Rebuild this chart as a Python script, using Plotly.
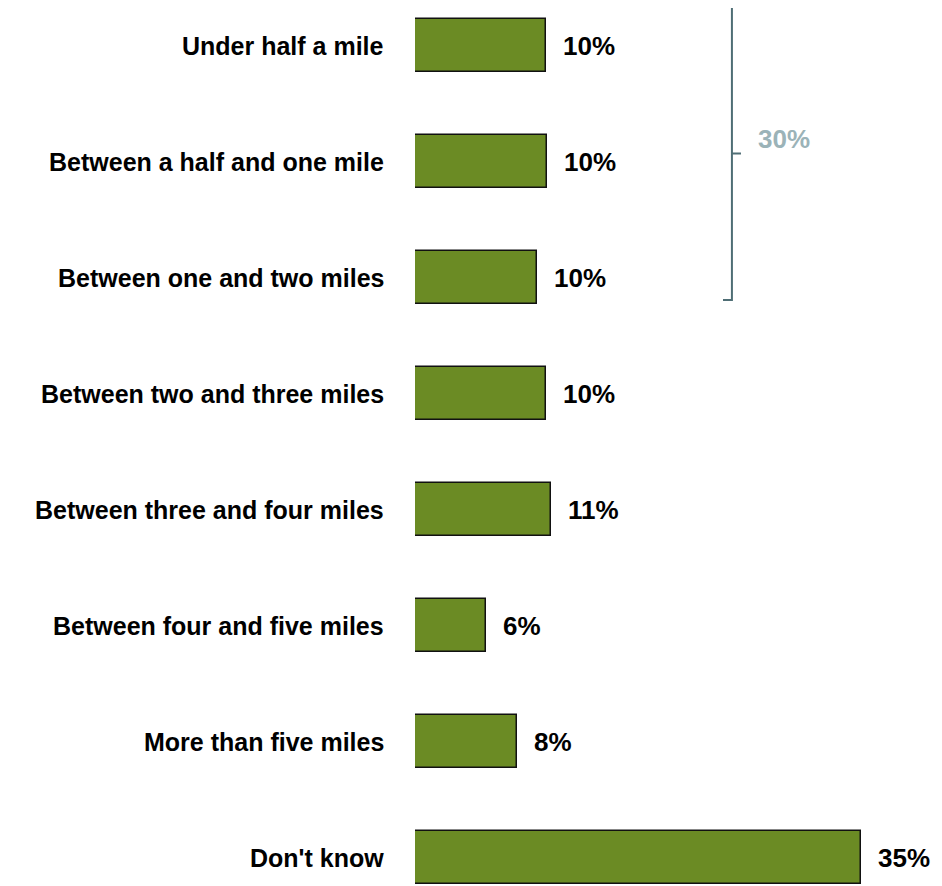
import plotly.graph_objects as go

categories = [
    "Under half a mile",
    "Between a half and one mile",
    "Between one and two miles",
    "Between two and three miles",
    "Between three and four miles",
    "Between four and five miles",
    "More than five miles",
    "Don't know",
]
values = [10.3, 10.4, 9.6, 10.3, 10.7, 5.6, 8.0, 35.0]
value_labels = ["10%", "10%", "10%", "10%", "11%", "6%", "8%", "35%"]
bracket_label = "30%"

FONT = "Liberation Sans, Arial, sans-serif"
BAR_COLOR = "#6B8B24"
BRACKET_COLOR = "#4F6E75"
BRACKET_TEXT = "#9BB3B8"

ypos = list(range(len(categories)))

fig = go.Figure()
fig.add_trace(go.Bar(
    x=values, y=ypos, orientation="h", width=0.457,
    marker=dict(color=BAR_COLOR, line=dict(color="#111111", width=1.5)),
    hoverinfo="skip", showlegend=False,
))

annotations = []
for i, (c, v, t) in enumerate(zip(categories, values, value_labels)):
    annotations.append(dict(
        x=0, y=i, xref="x", yref="y", text=f"<b>{c}</b>", showarrow=False,
        xanchor="right", yanchor="middle", xshift=-29,
        font=dict(family=FONT, size=25, color="#000000"),
    ))
    annotations.append(dict(
        x=v, y=i, xref="x", yref="y", text=f"<b>{t}</b>", showarrow=False,
        xanchor="left", yanchor="middle", xshift=15,
        font=dict(family=FONT, size=26, color="#000000"),
    ))

# bracket spanning the first three categories
bx, bl, bm = 24.88, 24.18, 25.59
ytop, ybot = -0.336, 2.19
ymid = (ytop + ybot) / 2
path = (f"M {bl} {ytop} L {bx} {ytop} L {bx} {ybot} L {bl} {ybot} "
        f"M {bx} {ymid} L {bm} {ymid}")
fig.add_shape(type="path", path=path, xref="x", yref="y",
              line=dict(color=BRACKET_COLOR, width=2))
annotations.append(dict(
    x=26.77, y=0.806, xref="x", yref="y", text=f"<b>{bracket_label}</b>",
    showarrow=False, xanchor="left", yanchor="middle",
    font=dict(family=FONT, size=26, color=BRACKET_TEXT),
))

fig.update_layout(
    width=942, height=886,
    margin=dict(l=407, r=0, t=0, b=0),
    paper_bgcolor="white", plot_bgcolor="white",
    annotations=annotations,
    xaxis=dict(range=[0, 42.0], visible=False, fixedrange=True),
    yaxis=dict(range=[7.311, -0.327], visible=False, fixedrange=True),
    bargap=0,
)

fig.write_html("out.html")
